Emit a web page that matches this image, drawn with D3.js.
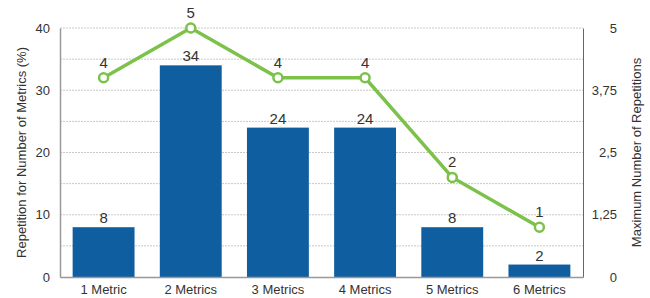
<!DOCTYPE html>
<html>
<head>
<meta charset="utf-8">
<script src="https://cdn.jsdelivr.net/npm/d3@7"></script>
<style>
  body { margin: 0; background: #fff; }
  text { font-family: "Liberation Sans", Arial, sans-serif; fill: #333; }
</style>
</head>
<body>
<svg id="chart" width="650" height="298"></svg>
<script>
var categories = ['1 Metric', '2 Metrics', '3 Metrics', '4 Metrics', '5 Metrics', '6 Metrics']
var percentValues = [8, 34, 24, 24, 8, 2]
var repetitionValues = [4, 5, 4, 4, 2, 1]
var leftTicks = [0, 10, 20, 30, 40]
var leftGrid = [5, 10, 15, 20, 25, 30, 35, 40]
var rightTicks = [0, 1.25, 2.5, 3.75, 5]

var margin = {left: 60, right: 67, top: 28, bottom: 21}
var width = 650 - margin.left - margin.right
var height = 298 - margin.top - margin.bottom

var svg = d3.select('#chart')
var g = svg.append('g').attr('transform', 'translate(' + margin.left + ',' + margin.top + ')')

var x = d3.scaleBand().domain(categories).range([0, width]).paddingInner(0.29).paddingOuter(0.145)
var y = d3.scaleLinear().domain([0, 40]).range([height, 0])
var y2 = d3.scaleLinear().domain([0, 5]).range([height, 0])

// dotted grid
g.selectAll('line.grid').data(leftGrid).enter().append('line')
  .attr('x1', 0).attr('x2', width)
  .attr('y1', d => y(d)).attr('y2', d => y(d))
  .attr('stroke', '#c8c8c8').attr('stroke-width', 1)
  .attr('stroke-dasharray', '2,1')

// bars
g.selectAll('rect.bar').data(percentValues).enter().append('rect')
  .attr('x', (d, i) => x(categories[i]))
  .attr('width', x.bandwidth())
  .attr('y', d => y(d))
  .attr('height', d => height - y(d))
  .attr('fill', '#0f5e9f')

g.selectAll('text.barlabel').data(percentValues).enter().append('text')
  .attr('x', (d, i) => x(categories[i]) + x.bandwidth() / 2)
  .attr('y', d => y(d) - 4)
  .attr('text-anchor', 'middle')
  .style('font-size', '15px')
  .text(d => d)

// axes
var leftAxis = g.append('g').call(d3.axisLeft(y).tickValues(leftTicks).tickSize(0).tickPadding(10))
leftAxis.select('.domain').attr('stroke', '#999').attr('stroke-width', 1.5)
leftAxis.selectAll('text').style('font-size', '13px').attr('fill', '#333')

var rightAxis = g.append('g').attr('transform', 'translate(' + width + ',0)')
  .call(d3.axisRight(y2).tickValues(rightTicks).tickSize(0).tickFormat(d => String(d).replace('.', ',')))
rightAxis.select('.domain').attr('stroke', '#666').attr('stroke-width', 1)
rightAxis.selectAll('text').style('font-size', '13px').attr('fill', '#333')
  .attr('text-anchor', 'end').attr('x', 34)

var bottomAxis = g.append('g').attr('transform', 'translate(0,' + height + ')')
  .call(d3.axisBottom(x).tickSize(0).tickPadding(8))
bottomAxis.select('.domain').attr('stroke', '#999').attr('stroke-width', 1.5)
bottomAxis.selectAll('text').style('font-size', '13px').attr('fill', '#333')

// line series
var line = d3.line()
  .x((d, i) => x(categories[i]) + x.bandwidth() / 2)
  .y(d => y2(d))

g.append('path').datum(repetitionValues)
  .attr('d', line)
  .attr('fill', 'none')
  .attr('stroke', '#7cc24a')
  .attr('stroke-width', 3.5)

g.selectAll('circle.pt').data(repetitionValues).enter().append('circle')
  .attr('cx', (d, i) => x(categories[i]) + x.bandwidth() / 2)
  .attr('cy', d => y2(d))
  .attr('r', 4.5)
  .attr('fill', '#fff')
  .attr('stroke', '#7cc24a')
  .attr('stroke-width', 2.5)

g.selectAll('text.ptlabel').data(repetitionValues).enter().append('text')
  .attr('x', (d, i) => x(categories[i]) + x.bandwidth() / 2)
  .attr('y', d => y2(d) - 10)
  .attr('text-anchor', 'middle')
  .style('font-size', '15px')
  .text(d => d)

// axis titles
svg.append('text')
  .attr('transform', 'translate(26,' + (margin.top + height / 2) + ') rotate(-90)')
  .attr('text-anchor', 'middle')
  .style('font-size', '13px')
  .text('Repetition for Number of Metrics (%)')

svg.append('text')
  .attr('transform', 'translate(641,' + (margin.top + height / 2) + ') rotate(-90)')
  .attr('text-anchor', 'middle')
  .style('font-size', '13px')
  .text('Maximum Number of Repetitions')
</script>
</body>
</html>
